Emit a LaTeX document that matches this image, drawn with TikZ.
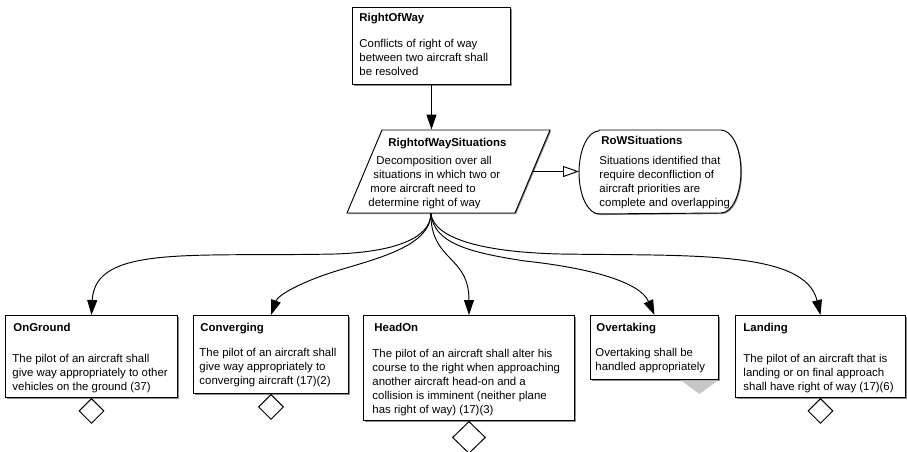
\documentclass[tikz,border=0pt]{standalone}
\usepackage{fontspec}
\setmainfont{Liberation Sans}
\usetikzlibrary{arrows.meta,shapes.geometric,shadows}
\newcommand\gsnfont{\fontsize{11.4}{14}\selectfont}
\begin{document}
\begin{tikzpicture}[x=1pt,y=-1pt,line width=0.95pt,
  shd/.style={drop shadow={shadow xshift=1.1pt,shadow yshift=-1.1pt,fill=black!45,opacity=1}},
  goal/.style={draw,fill=white,rectangle,inner sep=0pt,anchor=north west,shd},
  ttl/.style={anchor=base west,inner sep=0pt,font=\gsnfont\bfseries},
  txt/.style={anchor=north west,inner sep=0pt,align=left,font=\gsnfont},
  solved/.style={draw,fill=white,diamond,inner sep=0pt,anchor=north},
  arr/.style={-{Triangle[length=15pt,width=10pt]}},
  ctxarr/.style={-{Triangle[open,length=16pt,width=11pt]}}]
\fill[white] (0,0) rectangle (907,452);
\useasboundingbox (0,0) rectangle (907,452);

% top goal
\node[goal,minimum width=158pt,minimum height=77pt] (row) at (352,7) {};
\node[ttl] (rowt) at (359,22) {RightOfWay};
\node[txt] (rowb) at (359,38.5) {Conflicts of right of way\\between two aircraft shall\\be resolved};

% strategy (parallelogram)
\begin{scope}[shift={(448.5,171.5)}]
  \node[draw,fill=white,rectangle,inner sep=0pt,minimum width=168pt,minimum height=83pt,
        xslant=0.4217,transform shape,shd] (rs) at (0,0) {};
\end{scope}
\node[ttl] (rst) at (388,146) {RightofWaySituations};
\node[txt] (rsb) at (368,155.5) {\hspace*{8pt}Decomposition over all\\\hspace*{5pt}situations in which two or\\\hspace*{2pt}more aircraft need to\\determine right of way};

% context
\node[rectangle,inner sep=0pt,minimum width=161pt,minimum height=83pt,anchor=north west] (ctx) at (579,130) {};
\draw[fill=white,shd] ([xshift=20pt]ctx.north west) -- ([xshift=-20pt]ctx.north east)
  arc[start angle=90,end angle=-90,x radius=20pt,y radius=41.5pt]
  -- ([xshift=20pt]ctx.south west)
  arc[start angle=270,end angle=90,x radius=20pt,y radius=41.5pt] -- cycle;
\node[ttl] (ctxt) at (601,144) {RoWSituations};
\node[txt] (ctxb) at (599,155.5) {Situations identified that\\require deconfliction of\\aircraft priorities are\\complete and overlapping};

% sub-goals
\node[goal,minimum width=172pt,minimum height=82pt] (og) at (5,315) {};
\node[ttl] (ogt) at (13,331) {OnGround};
\node[txt] (ogb) at (12,354.2) {The pilot of an aircraft shall\\give way appropriately to other\\vehicles on the ground (37)};

\node[goal,minimum width=155pt,minimum height=78pt] (cv) at (193,315) {};
\node[ttl] (cvt) at (200,331) {Converging};
\node[txt] (cvb) at (199,348.2) {The pilot of an aircraft shall\\give way appropriately to\\converging aircraft (17)(2)};

\node[goal,minimum width=211pt,minimum height=105pt] (ho) at (363,315) {};
\node[ttl] (hot) at (374,331) {HeadOn};
\node[txt] (hob) at (372,348.7) {The pilot of an aircraft shall alter his\\course to the right when approaching\\another aircraft head-on and a\\collision is imminent (neither plane\\has right of way) (17)(3)};

\node[goal,minimum width=128pt,minimum height=64pt] (ov) at (590,315) {};
\node[ttl] (ovt) at (596,331) {Overtaking};
\node[txt] (ovb) at (595,348.2) {Overtaking shall be\\handled appropriately};

\node[goal,minimum width=170pt,minimum height=82pt] (ld) at (735,315) {};
\node[ttl] (ldt) at (743,331) {Landing};
\node[txt] (ldb) at (743,354.2) {The pilot of an aircraft that is\\landing or on final approach\\shall have right of way (17)(6)};

% solution markers
\node[solved,minimum width=25pt,minimum height=25pt] (ogd) at (og.south) {};
\node[solved,minimum width=25pt,minimum height=25pt] (cvd) at (cv.south) {};
\node[solved,minimum width=33pt,minimum height=32pt] (hod) at (ho.south) {};
\node[solved,minimum width=25pt,minimum height=25pt] (ldd) at (ld.south) {};
\fill[black!22] ([xshift=-38pt,yshift=-0.5pt]ov.south east) -- ([xshift=-1pt,yshift=-0.5pt]ov.south east)
  -- ([xshift=-19.5pt,yshift=-14pt]ov.south east) -- cycle;

% connectors
\draw[arr] (row.south) -- (row.south |- rs.north);
\draw[ctxarr] (rs.east) -- (rs.east -| ctx.west);
\draw[arr] (rs.south) .. controls (431,238) and (395,252) .. (335,254)
  .. controls (190,257) and (95,245) .. (og.north);
\draw[arr] (rs.south) .. controls (431,248) and (370,260) .. (330,273)
  .. controls (300,283) and (278,295) .. (cv.north);
\draw[arr] (rs.south) .. controls (431,262) and (469,255) .. (ho.north);
\draw[arr] (rs.south) .. controls (434,242) and (465,252) .. (525,261)
  .. controls (590,268) and (640,282) .. (ov.north);
\draw[arr] (rs.south) .. controls (434,238) and (480,252) .. (560,254)
  .. controls (690,256) and (805,250) .. (ld.north);
\end{tikzpicture}
\end{document}
